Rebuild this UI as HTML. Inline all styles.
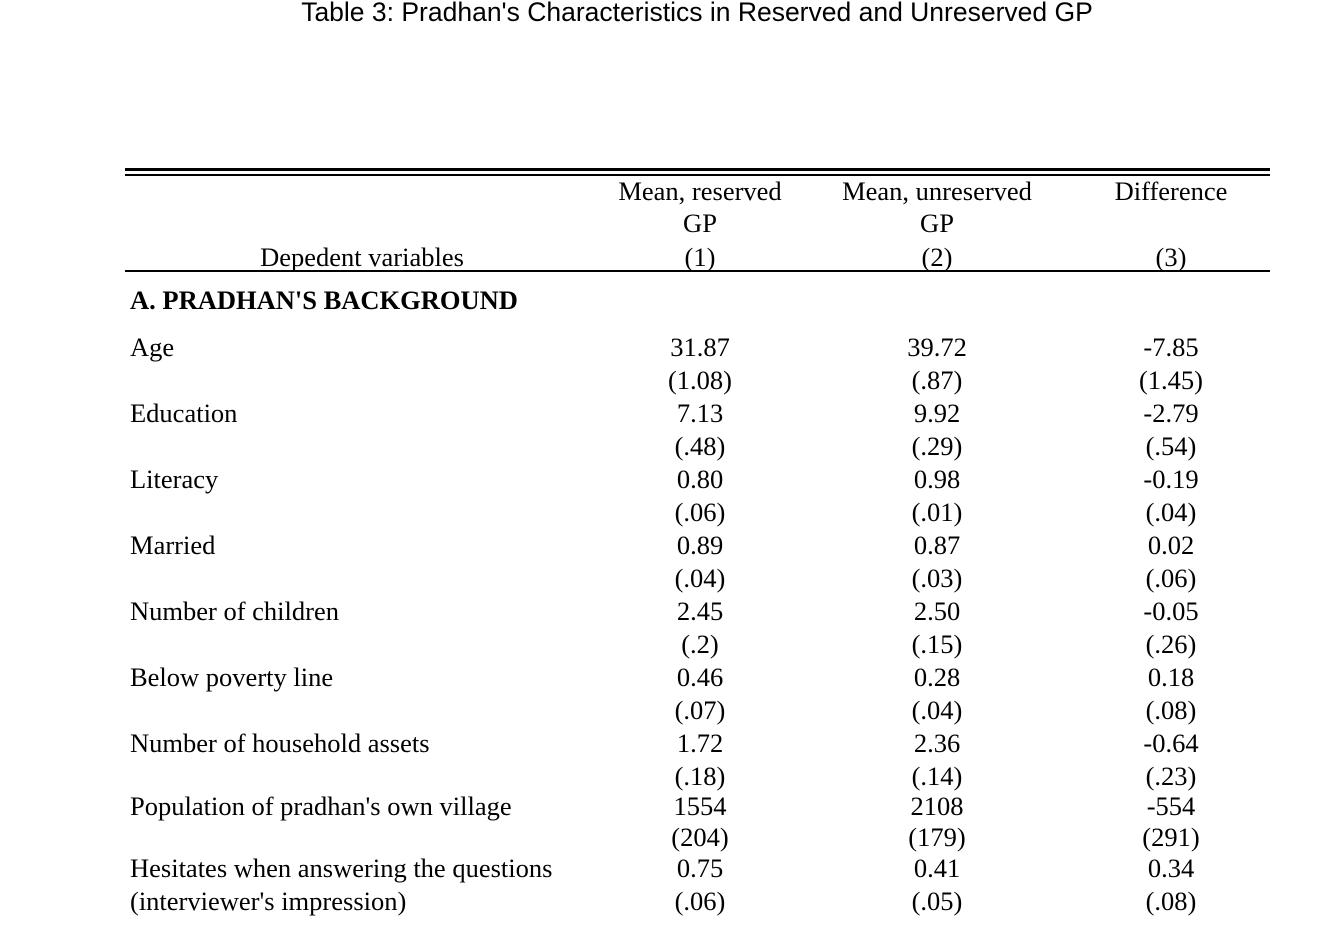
<!DOCTYPE html>
<html><head><meta charset="utf-8">
<style>
body{margin:0;background:#fff;width:1338px;height:926px;position:relative;overflow:hidden;font-family:"Liberation Serif",serif;color:#000}
.t{position:absolute;font-size:26.5px;line-height:28px;white-space:nowrap}
.c{transform:translateX(-50%)}
.rule{position:absolute;left:125px;width:1145px;background:#000}
#title{position:absolute;left:0;width:1394px;text-align:center;top:-3px;font-family:"Liberation Sans",sans-serif;font-size:26.5px;}
</style></head><body>
<div id="title">Table 3: Pradhan's Characteristics in Reserved and Unreserved GP</div>
<div class="rule" style="top:168px;height:3px"></div>
<div class="rule" style="top:174px;height:2px"></div>
<div class="rule" style="top:270px;height:2px"></div>
<div class="t c" style="left:700px;top:177px">Mean, reserved</div>
<div class="t c" style="left:700px;top:209px">GP</div>
<div class="t c" style="left:700px;top:243px">(1)</div>
<div class="t c" style="left:937px;top:177px">Mean, unreserved</div>
<div class="t c" style="left:937px;top:209px">GP</div>
<div class="t c" style="left:937px;top:243px">(2)</div>
<div class="t c" style="left:1171px;top:177px">Difference</div>
<div class="t c" style="left:1171px;top:243px">(3)</div>
<div class="t c" style="left:362px;top:243px">Depedent variables</div>
<div class="t" style="left:130px;top:286px;font-weight:bold">A. PRADHAN'S BACKGROUND</div>
<div id="rows"></div>
<script>
const labels=["Age","Education","Literacy","Married","Number of children","Below poverty line","Number of household assets","Population of pradhan's own village","Hesitates when answering the questions"];
const col1=["31.87","7.13","0.80","0.89","2.45","0.46","1.72","1554","0.75"];
const se1=["(1.08)","(.48)","(.06)","(.04)","(.2)","(.07)","(.18)","(204)","(.06)"];
const col2=["39.72","9.92","0.98","0.87","2.50","0.28","2.36","2108","0.41"];
const se2=["(.87)","(.29)","(.01)","(.03)","(.15)","(.04)","(.14)","(179)","(.05)"];
const col3=["-7.85","-2.79","-0.19","0.02","-0.05","0.18","-0.64","-554","0.34"];
const se3=["(1.45)","(.54)","(.04)","(.06)","(.26)","(.08)","(.23)","(291)","(.08)"];
const root=document.getElementById('rows');
function add(txt,x,y,center,name){
  const d=document.createElement('div');
  d.className='t'+(center?' c':'');
  d.style.left=x+'px';d.style.top=y+'px';d.textContent=txt;
  
  
  root.appendChild(d);
}
const xs=[700,937,1171];
for(let i=0;i<labels.length;i++){
  let y=333+i*66; if(i==7) y=792; if(i==8) y=854;
  let ys=y+33; if(i==7) ys=823; if(i==8) ys=887;
  add(labels[i],130,y,false,'row-label');
  [col1,col2,col3].forEach((c,j)=>add(c[i],xs[j],y,true,'value-cell'));
  [se1,se2,se3].forEach((c,j)=>add(c[i],xs[j],ys,true,'se-cell'));
}
add("(interviewer's impression)",130,887,false,'row-label-continued');
</script>
</body></html>
